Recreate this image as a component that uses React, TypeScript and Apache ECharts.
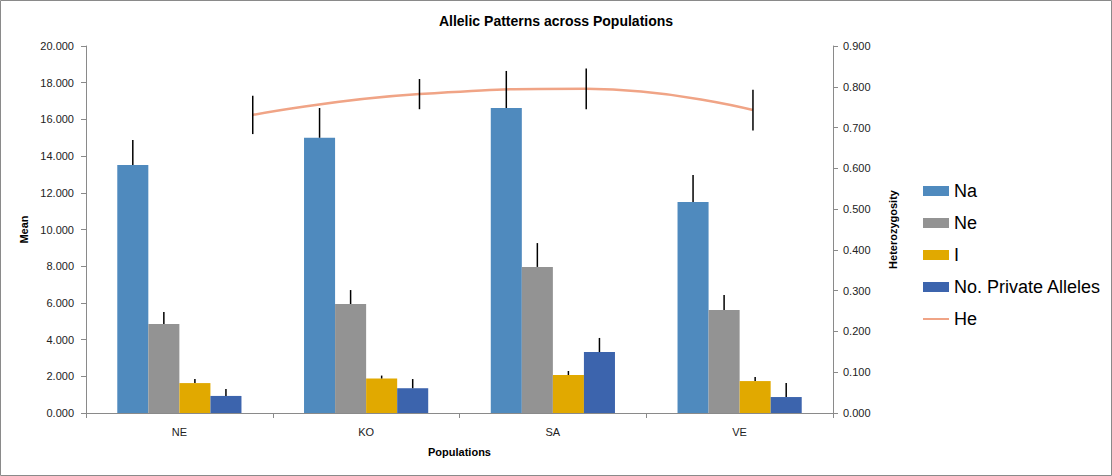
import React, { useEffect, useRef } from "react";
import * as echarts from "echarts";

const categories = ["NE", "KO", "SA", "VE"];
const naValues = [13.51, 15.0, 16.62, 11.5];
const naErr = [1.37, 1.62, 2.02, 1.47];
const neValues = [4.85, 5.94, 7.96, 5.61];
const neErr = [0.65, 0.76, 1.3, 0.82];
const iValues = [1.63, 1.88, 2.07, 1.74];
const iErr = [0.22, 0.16, 0.22, 0.22];
const privValues = [0.93, 1.35, 3.32, 0.87];
const privErr = [0.38, 0.5, 0.77, 0.76];
const heValues = [0.731, 0.782, 0.795, 0.743];
const heErr = [0.047, 0.037, 0.05, 0.05];
const leftTicks = { min: 0, max: 20, interval: 2 };
const rightTicks = { min: 0, max: 0.9, interval: 0.1 };

const barSeries = [
  { name: "Na", values: naValues, err: naErr, color: "#4F8ABE" },
  { name: "Ne", values: neValues, err: neErr, color: "#939393" },
  { name: "I", values: iValues, err: iErr, color: "#E1A900" },
  { name: "No. Private Alleles", values: privValues, err: privErr, color: "#3C64AD" },
];

const CAT_GAP = 0.335;
const FONT = "Liberation Sans";

export default function App() {
  const ref = useRef<HTMLDivElement>(null);
  useEffect(() => {
    if (!ref.current) return;
    const chart = echarts.init(ref.current, null, { renderer: "svg" });
    const errData: any[] = [];
    barSeries.forEach((s, si) => {
      s.values.forEach((v, ci) => errData.push([ci, si, v, s.err[ci]]));
    });
    const heData = heValues.map((v, i) => [i + 1, v]);
    const heErrData = heValues.map((v, i) => [i + 1, v, heErr[i]]);
    const axisLine = { show: true, lineStyle: { color: "#8A8A8A", width: 1 } };
    const labelStyle = { color: "#222", fontSize: 11, fontFamily: FONT };
    const nameStyle = { color: "#000", fontSize: 11, fontWeight: "bold" as const, fontFamily: FONT };
    chart.setOption({
      animation: false,
      textStyle: { fontFamily: FONT },
      title: {
        text: "Allelic Patterns across Populations",
        left: "center",
        top: 14,
        padding: 0,
        textStyle: { fontSize: 14, fontWeight: "bold", color: "#000", fontFamily: FONT },
      },
      grid: { left: 86, right: 279, top: 46, bottom: 63, containLabel: false },
      legend: {
        orient: "vertical",
        left: 922,
        top: 182,
        padding: 0,
        itemWidth: 26,
        itemHeight: 10,
        itemGap: 14,
        textStyle: { fontSize: 18, color: "#000", fontFamily: FONT },
        data: [
          { name: "Na", icon: "rect" },
          { name: "Ne", icon: "rect" },
          { name: "I", icon: "rect" },
          { name: "No. Private Alleles", icon: "rect" },
          { name: "He", itemStyle: { opacity: 0 } },
        ],
      },
      xAxis: [
        {
          type: "category",
          data: categories,
          name: "Populations",
          nameLocation: "middle",
          nameGap: 33,
          nameTextStyle: nameStyle,
          axisLine,
          axisTick: { show: true, length: 5, lineStyle: { color: "#8A8A8A" } },
          axisLabel: { ...labelStyle, margin: 13 },
        },
        {
          type: "value",
          min: 0,
          max: 4.48,
          show: false,
        },
      ],
      yAxis: [
        {
          type: "value",
          ...leftTicks,
          name: "Mean",
          nameLocation: "middle",
          nameGap: 52,
          nameTextStyle: nameStyle,
          axisLine,
          axisTick: { show: true, length: 5, lineStyle: { color: "#8A8A8A" } },
          axisLabel: { ...labelStyle, margin: 12, formatter: (v: number) => v.toFixed(3) },
          splitLine: { show: false },
        },
        {
          type: "value",
          ...rightTicks,
          position: "right",
          name: "Heterozygosity",
          nameLocation: "middle",
          nameGap: 54,
          nameRotate: 90,
          nameTextStyle: nameStyle,
          axisLine,
          axisTick: { show: true, length: 5, lineStyle: { color: "#8A8A8A" } },
          axisLabel: { ...labelStyle, margin: 10, formatter: (v: number) => v.toFixed(3) },
          splitLine: { show: false },
        },
      ],
      series: [
        ...barSeries.map((s) => ({
          name: s.name,
          type: "bar",
          data: s.values,
          barGap: "0%",
          barCategoryGap: CAT_GAP * 100 + "%",
          itemStyle: { color: s.color },
        })),
        {
          name: "barErrors",
          type: "custom",
          data: errData,
          encode: { x: 0, y: 2 },
          z: 5,
          renderItem: (params: any, api: any) => {
            const ci = api.value(0);
            const si = api.value(1);
            const v = api.value(2);
            const e = api.value(3);
            const center = api.coord([ci, v]);
            const catW = api.size([1, 0])[0];
            const barW = (catW * (1 - CAT_GAP)) / barSeries.length;
            const x = center[0] + (si - (barSeries.length - 1) / 2) * barW;
            const top = api.coord([ci, v + e])[1];
            return {
              type: "line",
              shape: { x1: x, y1: center[1], x2: x, y2: top },
              style: { stroke: "#000", lineWidth: 1.5 },
            };
          },
        },
        {
          name: "He",
          type: "line",
          xAxisIndex: 1,
          yAxisIndex: 1,
          data: heData,
          smooth: 0.5,
          symbol: "none",
          showSymbol: false,
          lineStyle: { color: "#F0A486", width: 2.5 },
          itemStyle: { color: "#F0A486" },
          z: 4,
        },
        {
          name: "heErrors",
          type: "custom",
          xAxisIndex: 1,
          yAxisIndex: 1,
          data: heErrData,
          encode: { x: 0, y: 1 },
          z: 6,
          renderItem: (params: any, api: any) => {
            const x = api.value(0);
            const v = api.value(1);
            const e = api.value(2);
            const p1 = api.coord([x, v - e]);
            const p2 = api.coord([x, v + e]);
            return {
              type: "line",
              shape: { x1: p1[0], y1: p1[1], x2: p2[0], y2: p2[1] },
              style: { stroke: "#000", lineWidth: 1.5 },
            };
          },
        },
      ],
      graphic: [
        {
          type: "rect",
          shape: { x: 0.5, y: 0.5, width: 1111, height: 475 },
          style: { fill: "none", stroke: "#8A8A8A", lineWidth: 1 },
          silent: true,
        },
      ],
    });
    return () => chart.dispose();
  }, []);
  return (
    <div
      ref={ref}
      style={{ position: "absolute", left: 0, top: 0, width: 1112, height: 476, background: "#fff" }}
    />
  );
}
